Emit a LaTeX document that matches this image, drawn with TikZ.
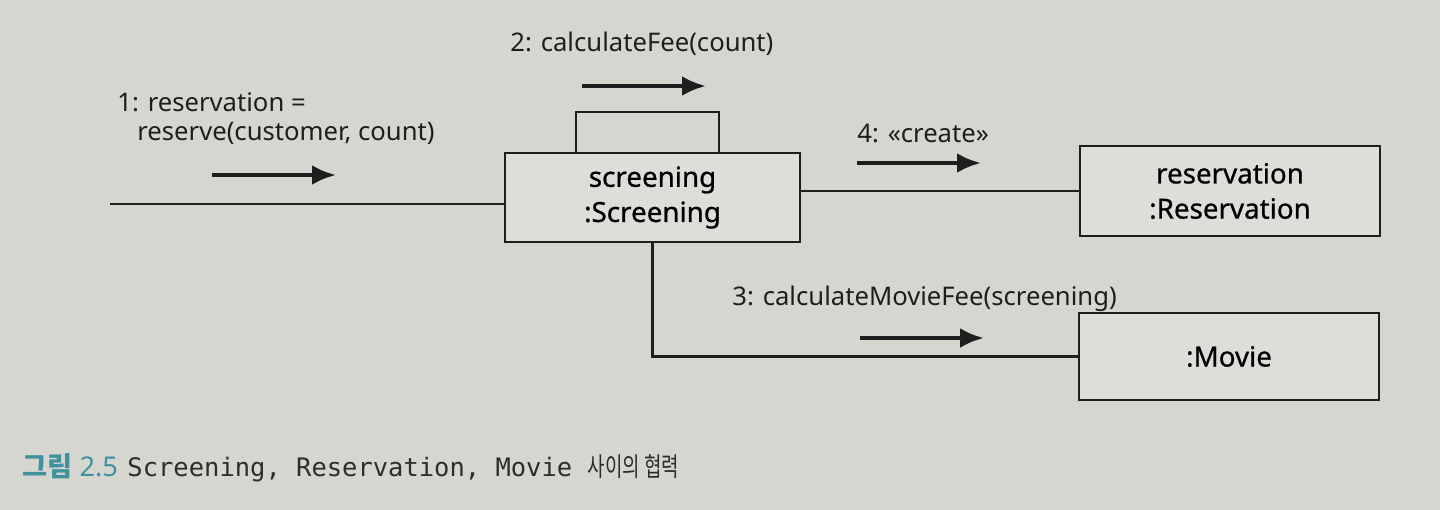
\documentclass[tikz,border=0pt]{standalone}
\usepackage{fontspec}
\setmainfont{Noto Sans}
\setmonofont{DejaVu Sans Mono}
\newfontfamily\krfont{Noto Sans CJK KR}
\newfontfamily\objfont[FakeBold=0.7]{Noto Sans}
\usetikzlibrary{arrows.meta, positioning}
\definecolor{paper}{RGB}{214,214,209}
\definecolor{boxfill}{RGB}{222,222,217}
\definecolor{ink}{RGB}{30,30,30}
\definecolor{capgray}{RGB}{45,45,45}
\definecolor{figteal}{RGB}{64,146,158}

\begin{document}
\begin{tikzpicture}[x=0.02cm, y=-0.02cm, font=\fontsize{14.6}{17}\selectfont, obj/.style={draw=ink, line width=1.2pt, fill=boxfill, minimum width=6cm, minimum height=1.78cm, align=center, inner sep=0pt, font=\objfont\fontsize{15.8}{20}\selectfont}, link/.style={draw=ink, line width=1.2pt}, msg/.style={-{Latex[length=4.8mm, width=4mm]}, line width=2.5pt, draw=ink}, lbl/.style={anchor=base west, inner sep=0pt, text=ink}]
\fill[paper] (0,0) rectangle (1440,510);
\useasboundingbox (0,0) rectangle (1440,510);
% objects
\node[obj, minimum width=5.9cm] (screening) at (652.5,197.5) {screening\\:Screening};
\node[obj, minimum height=1.8cm] (reservation) at (1230,191) {reservation\\:Reservation};
\node[obj, minimum height=1.74cm] (movie) at (1229,356.5) {:Movie};
% self link
\coordinate (loopl) at (576,112);
\coordinate (loopr) at (719,112);
\draw[link] (loopl |- screening.north) -- (loopl) -- (loopr) -- (loopr |- screening.north);
% links
\coordinate (entry) at (110,204);
\draw[link] (entry) -- (entry -| screening.west);
\draw[link] (reservation.west -| screening.east) -- (reservation.west);
\draw[link] (screening.south) |- (movie.west);
% messages
\foreach \n/\x/\y in {one/212/175, two/582/86, four/857/163, three/860/338}{\coordinate (\n s) at (\x,\y);\coordinate (\n e) at (\x+124,\y);\draw[msg] (\n s) -- (\n e);}
\node[lbl] (msgonea) at (117,112) {1: reservation =};
\node[lbl] (msgoneb) at (137,140) {reserve(customer, count)};
\node[lbl] (msgtwo) at (510,52) {2: calculateFee(count)};
\node[lbl] (msgfour) at (857,142) {4: «create»};
\node[lbl] (msgthree) at (732,305) {3: calculateMovieFee(screening)};
% caption
\node[anchor=base west, inner sep=0pt, text=figteal, font=\fontsize{15.5}{17}\selectfont] (capnum) at (22,476) {{\krfont\bfseries 그림} 2.5};
\node[inner sep=0pt, text=capgray, font=\fontsize{14.5}{17}\selectfont, right=5pt of capnum.base east, anchor=base west] (captext) {\ttfamily Screening, Reservation, Movie {\krfont\fontsize{15}{17}\selectfont\scalebox{0.72}[1]{사이의 협력}}};
\end{tikzpicture}
\end{document}
